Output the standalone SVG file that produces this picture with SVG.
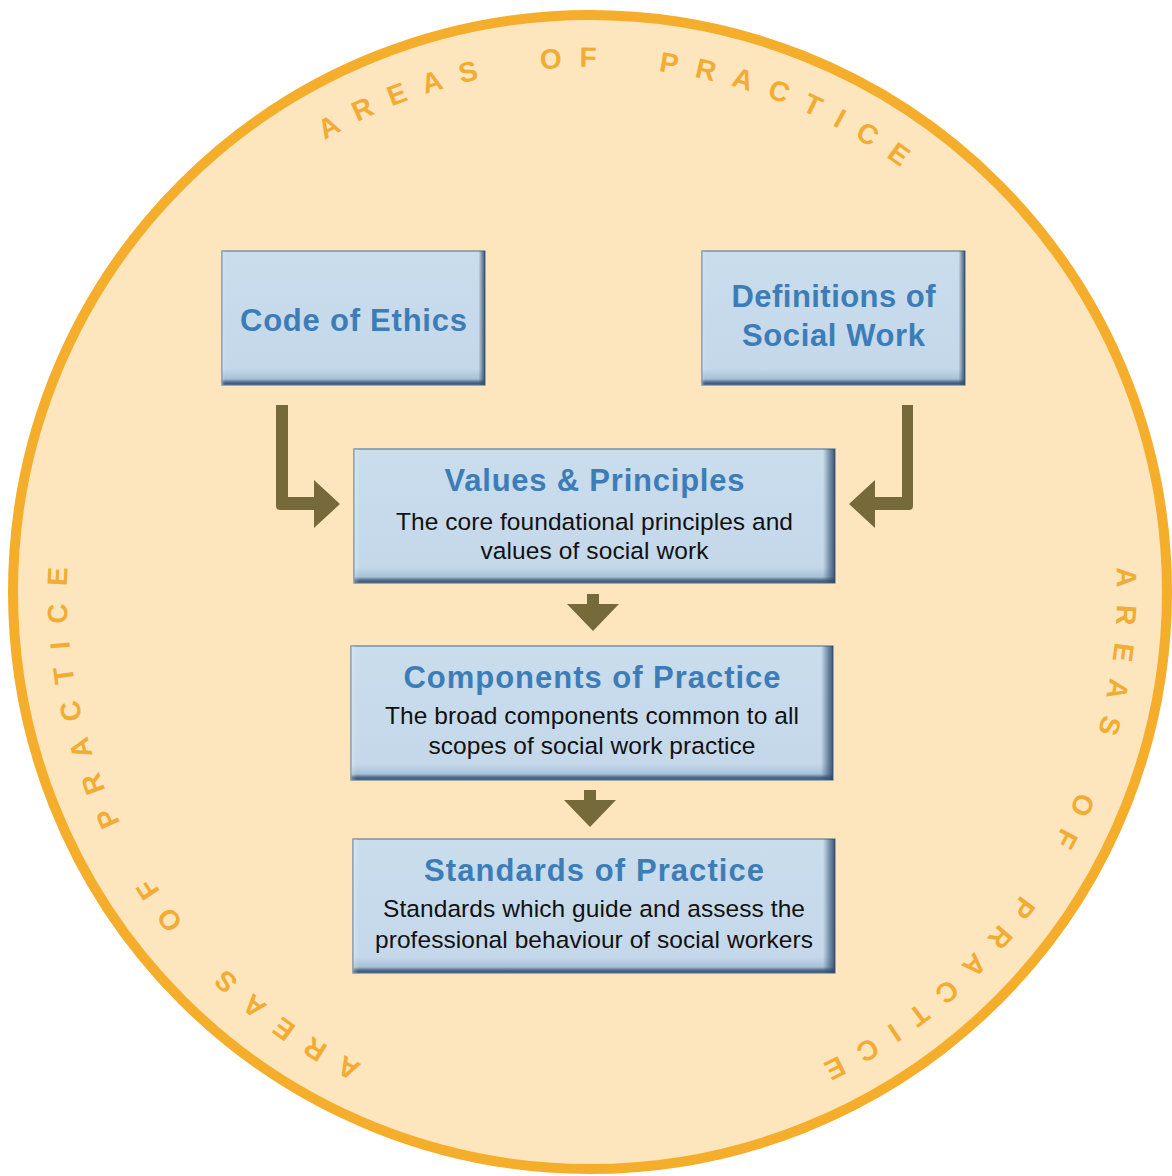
<svg xmlns="http://www.w3.org/2000/svg" xmlns:xlink="http://www.w3.org/1999/xlink" width="1172" height="1176" viewBox="0 0 1172 1176">
<defs>
<style>
.ring{fill:#FDE6BD;stroke:#F5AE2C;stroke-width:10}
.arc{font-family:"Liberation Sans",Arial,sans-serif;font-weight:bold;font-size:28px;fill:#F2AC33;letter-spacing:17.2px}
.box{fill:url(#gV);stroke:#5E7D9C;stroke-width:1.2}
.edge{fill:url(#gH)}
.title{font-family:"Liberation Sans",Arial,sans-serif;font-weight:bold;font-size:31px;fill:#3D7DB7;text-anchor:middle}
.sub{font-family:"Liberation Sans",Arial,sans-serif;font-size:24.5px;fill:#111111;text-anchor:middle}
.arrow{fill:#76693A}
</style>
<linearGradient id="gV" x1="0" y1="0" x2="0" y2="1">
<stop offset="0" stop-color="#CADDED"/>
<stop offset="0.88" stop-color="#C4D8EA"/>
<stop offset="0.955" stop-color="#A8C0D7"/>
<stop offset="0.975" stop-color="#5B7896"/>
<stop offset="1" stop-color="#2C4665"/>
</linearGradient>
<linearGradient id="gH" x1="0" y1="0" x2="1" y2="0">
<stop offset="0" stop-color="#FFFFFF" stop-opacity="0.25"/>
<stop offset="0.012" stop-color="#FFFFFF" stop-opacity="0"/>
<stop offset="0.975" stop-color="#34506F" stop-opacity="0"/>
<stop offset="0.99" stop-color="#34506F" stop-opacity="0.6"/>
<stop offset="1" stop-color="#2C4665" stop-opacity="0.9"/>
</linearGradient>
<path id="textCircle" d="M592,1117 A525,525 0 1 1 592,67 A525,525 0 1 1 592,1117"/>
</defs>

<g id="background">
<circle class="ring" cx="590" cy="592" r="577"/>
<text class="arc"><textPath xlink:href="#textCircle" href="#textCircle" startOffset="238.2">AREAS <tspan dx="20">OF</tspan> <tspan dx="20">PRACTICE</tspan></textPath></text>
<text class="arc"><textPath xlink:href="#textCircle" href="#textCircle" startOffset="1368.6">AREAS <tspan dx="20">OF</tspan> <tspan dx="20">PRACTICE</tspan></textPath></text>
<text class="arc"><textPath xlink:href="#textCircle" href="#textCircle" startOffset="2448.9">AREAS <tspan dx="20">OF</tspan> <tspan dx="20">PRACTICE</tspan></textPath></text>
</g>

<g id="connectors">
<g id="arrow-ethics-values">
<path class="arrow" d="M276,405 H288 V497 H314 V480 L340,504 L314,528 V510 H280 Q276,510 276,506 Z"/>
</g>
<g id="arrow-definitions-values">
<path class="arrow" d="M913,405 H902 V497 H875 V480 L849,504 L875,528 V510 H909 Q913,510 913,506 Z"/>
</g>
<g id="arrow-values-components">
<path class="arrow" d="M587,594 H599 V604 H619 L593,631 L567,604 H587 Z"/>
</g>
<g id="arrow-components-standards">
<path class="arrow" d="M584,790 H596 V800 H616 L590,827 L564,800 H584 Z"/>
</g>
</g>

<g id="node-code-of-ethics">
<rect class="box" x="222" y="251" width="263" height="134"/>
<rect class="edge" x="222" y="251" width="263" height="134"/>
<text class="title" x="353.5" y="331" textLength="227">Code of Ethics</text>
</g>

<g id="node-definitions">
<rect class="box" x="702" y="251" width="263" height="134"/>
<rect class="edge" x="702" y="251" width="263" height="134"/>
<text class="title" x="833.5" y="307" textLength="204">Definitions of</text>
<text class="title" x="833.5" y="346" textLength="183">Social Work</text>
</g>

<g id="node-values-principles">
<rect class="box" x="354" y="449" width="481" height="134"/>
<rect class="edge" x="354" y="449" width="481" height="134"/>
<text class="title" x="594.5" y="491" textLength="300">Values &amp; Principles</text>
<text class="sub" x="594.5" y="530" textLength="397">The core foundational principles and</text>
<text class="sub" x="594.5" y="559" textLength="228">values of social work</text>
</g>

<g id="node-components">
<rect class="box" x="351" y="646" width="482" height="134"/>
<rect class="edge" x="351" y="646" width="482" height="134"/>
<text class="title" x="592" y="688" textLength="377">Components of Practice</text>
<text class="sub" x="592" y="724" textLength="414">The broad components common to all</text>
<text class="sub" x="592" y="754" textLength="327">scopes of social work practice</text>
</g>

<g id="node-standards">
<rect class="box" x="353" y="839" width="482" height="134"/>
<rect class="edge" x="353" y="839" width="482" height="134"/>
<text class="title" x="594" y="881" textLength="340">Standards of Practice</text>
<text class="sub" x="594" y="917" textLength="422">Standards which guide and assess the</text>
<text class="sub" x="594" y="948" textLength="438">professional behaviour of social workers</text>
</g>
</svg>
